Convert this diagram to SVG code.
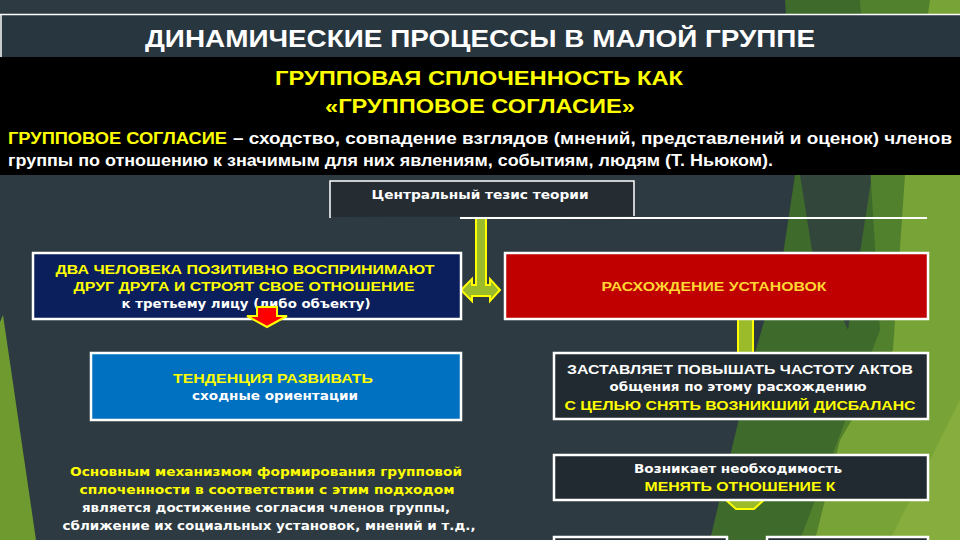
<svg xmlns="http://www.w3.org/2000/svg" width="960" height="540" viewBox="0 0 960 540">
<style>
.box{stroke:#ffffff;stroke-width:2.5}
.cap{font-family:"Liberation Sans",Arial,sans-serif;font-weight:bold;font-size:12.5px}
.low{font-family:"DejaVu Sans",Verdana,sans-serif;font-weight:bold;font-size:12px}
.y{fill:#ffff00}
.g{fill:#ffd633}
.w{fill:#ffffff}
.hd{font-family:"Liberation Sans",Arial,sans-serif;font-weight:bold}
.conn{fill:#9bbb2b;stroke:#ffff00;stroke-width:2;stroke-linejoin:miter}
</style>
<rect x="0" y="0" width="960" height="540" fill="#2d3a41"/>
<g id="background">
<polygon points="785,0 960,0 960,540 710,540 753,360 783,255 795,175" fill="#3e6a2b"/>
<polygon points="800,175 872,175 848,330 812,250" fill="#33463c"/>
<polygon points="860,0 960,0 960,540 800,540 880,330" fill="#52812e"/>
<polygon points="930,0 960,0 960,540 815,540 840,440 893,350 905,175" fill="#78a336"/>
<polygon points="890,540 960,540 960,400" fill="#86ad3e"/>
<polygon points="3,315 36,540 0,540 0,322" fill="#6e9a30"/>
</g>
<g id="header">
<rect x="0" y="14" width="960" height="43" fill="#283640"/>
<line x1="0" y1="14.5" x2="960" y2="14.5" stroke="#ffffff" stroke-width="1.5"/>
<line x1="1" y1="14" x2="1" y2="57" stroke="#ffffff" stroke-width="1.5"/>
<text x="480" y="47" text-anchor="middle" class="hd w" font-size="24" textLength="670" lengthAdjust="spacingAndGlyphs">ДИНАМИЧЕСКИЕ ПРОЦЕССЫ В МАЛОЙ ГРУППЕ</text>
</g>
<g id="definition">
<rect x="0" y="57" width="960" height="118" fill="#000000"/>
<text x="479" y="85" text-anchor="middle" class="hd y" font-size="20" textLength="408" lengthAdjust="spacingAndGlyphs">ГРУППОВАЯ СПЛОЧЕННОСТЬ КАК</text>
<text x="480" y="113" text-anchor="middle" class="hd y" font-size="20" textLength="310" lengthAdjust="spacingAndGlyphs">«ГРУППОВОЕ СОГЛАСИЕ»</text>
<text x="8" y="144" class="hd y" font-size="16" textLength="219" lengthAdjust="spacingAndGlyphs">ГРУППОВОЕ  СОГЛАСИЕ</text>
<text x="233" y="144" class="hd w" font-size="16" textLength="719" lengthAdjust="spacingAndGlyphs">–  сходство,  совпадение  взглядов  (мнений,  представлений  и  оценок)  членов</text>
<text x="8" y="166" class="hd w" font-size="16" textLength="765" lengthAdjust="spacingAndGlyphs">группы по отношению к значимым для них явлениям, событиям, людям (Т. Ньюком).</text>
</g>
<g id="connectors">
<path class="conn" d="M476,218 L486,218 L486,285 L490,285 L490,279 L500,290 L490,301 L490,296 L472,296 L472,301 L461,290 L472,279 L472,285 L476,285 Z"/>
<rect class="conn" x="738" y="319" width="15" height="35"/>
<path class="conn" d="M726,500 L764,500 L754,509 L736,509 Z"/>
</g>
<g id="thesis">
<path d="M330,217 L330,181 L634,181 L634,216 Z" fill="#252d33"/>
<path d="M330,218 L330,181 L634,181 L634,216" fill="none" stroke="#ffffff" stroke-width="1.5"/>
<line x1="460" y1="218" x2="927" y2="218" stroke="#ffffff" stroke-width="2"/>
<text x="480" y="199" text-anchor="middle" class="low w" font-size="13" textLength="217" lengthAdjust="spacingAndGlyphs">Центральный тезис теории</text>
</g>
<g id="two-people">
<rect class="box" x="33" y="253" width="428" height="66" fill="#0a1f5c"/>
<text x="245" y="274" text-anchor="middle" class="cap y" textLength="379" lengthAdjust="spacingAndGlyphs">ДВА ЧЕЛОВЕКА ПОЗИТИВНО ВОСПРИНИМАЮТ</text>
<text x="244" y="291" text-anchor="middle" class="cap y" textLength="341" lengthAdjust="spacingAndGlyphs">ДРУГ ДРУГА И СТРОЯТ СВОЕ ОТНОШЕНИЕ</text>
<text x="246" y="308" text-anchor="middle" class="low w" textLength="249" lengthAdjust="spacingAndGlyphs">к третьему лицу (либо объекту)</text>
</g>
<g id="red-arrow">
<path d="M257,307 L277,307 L277,316 L287,316 L267,327 L247,316 L257,316 Z" fill="#ff0000" stroke="#ffff00" stroke-width="2"/>
</g>
<g id="divergence">
<rect class="box" x="505" y="253" width="423" height="66" fill="#c00000"/>
<text x="714" y="291" text-anchor="middle" class="cap g" textLength="225" lengthAdjust="spacingAndGlyphs">РАСХОЖДЕНИЕ УСТАНОВОК</text>
</g>
<g id="tendency">
<rect class="box" x="91" y="353" width="370" height="67" fill="#0070c0"/>
<text x="273" y="383" text-anchor="middle" class="cap y" textLength="200" lengthAdjust="spacingAndGlyphs">ТЕНДЕНЦИЯ РАЗВИВАТЬ</text>
<text x="275" y="400" text-anchor="middle" class="low w" textLength="166" lengthAdjust="spacingAndGlyphs">сходные ориентации</text>
</g>
<g id="forces">
<rect class="box" x="554" y="353" width="374" height="66" fill="#222a31"/>
<text x="740" y="374" text-anchor="middle" class="cap w" textLength="346" lengthAdjust="spacingAndGlyphs">ЗАСТАВЛЯЕТ ПОВЫШАТЬ ЧАСТОТУ АКТОВ</text>
<text x="738" y="391" text-anchor="middle" class="low w" textLength="257" lengthAdjust="spacingAndGlyphs">общения по этому расхождению</text>
<text x="740" y="410" text-anchor="middle" class="cap y" textLength="351" lengthAdjust="spacingAndGlyphs">С ЦЕЛЬЮ СНЯТЬ ВОЗНИКШИЙ ДИСБАЛАНС</text>
</g>
<g id="mechanism">
<text x="266" y="476" text-anchor="middle" class="low y" textLength="392" lengthAdjust="spacingAndGlyphs">Основным механизмом формирования групповой</text>
<text x="267" y="494" text-anchor="middle" class="low y" textLength="375" lengthAdjust="spacingAndGlyphs">сплоченности в соответствии с этим подходом</text>
<text x="266" y="512" text-anchor="middle" class="low w" textLength="368" lengthAdjust="spacingAndGlyphs">является достижение согласия членов группы,</text>
<text x="269" y="530" text-anchor="middle" class="low w" textLength="413" lengthAdjust="spacingAndGlyphs">сближение их социальных установок, мнений и т.д.,</text>
</g>
<g id="necessity">
<rect class="box" x="554" y="455" width="374" height="45" fill="#222a31"/>
<text x="738" y="473" text-anchor="middle" class="low w" textLength="208" lengthAdjust="spacingAndGlyphs">Возникает необходимость</text>
<text x="740" y="491" text-anchor="middle" class="cap y" textLength="191" lengthAdjust="spacingAndGlyphs">МЕНЯТЬ ОТНОШЕНИЕ К</text>
</g>
<g id="bottom-left">
<rect class="box" x="554" y="537" width="173" height="20" fill="#222a31"/>
</g>
<g id="bottom-right">
<rect class="box" x="767" y="537" width="161" height="20" fill="#222a31"/>
</g>
</svg>
